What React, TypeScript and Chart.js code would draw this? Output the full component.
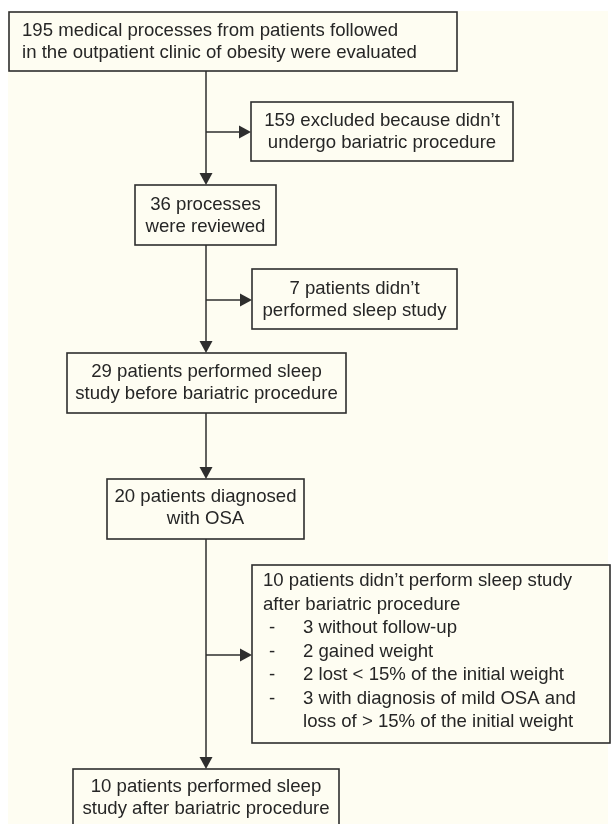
import React, { useEffect, useRef } from "react";
import { Chart, registerables } from "chart.js";

Chart.register(...registerables);

// ---- Content (texts of the flow diagram) ----
const mainSteps: string[][] = [
  ["195 medical processes from patients followed", "in the outpatient clinic of obesity were evaluated"],
  ["36 processes", "were reviewed"],
  ["29 patients performed sleep", "study before bariatric procedure"],
  ["20 patients diagnosed", "with OSA"],
  ["10 patients performed sleep", "study after bariatric procedure"],
];
const exclusionHeads: string[][] = [
  ["159 excluded because didn\u2019t", "undergo bariatric procedure"],
  ["7 patients didn\u2019t", "performed sleep study"],
  ["10 patients didn\u2019t perform sleep study", "after bariatric procedure"],
];
const lastReasons: string[][] = [
  ["3 without follow-up"],
  ["2 gained weight"],
  ["2 lost < 15% of the initial weight"],
  ["3 with diagnosis of mild OSA and", "loss of > 15% of the initial weight"],
];

// ---- Layout (diagram coordinates, 612 x 824 space) ----
type Box = { x0: number; x1: number; y0: number; y1: number; align: "left" | "center"; first: number; lh: number; tx?: number };
const mainBoxes: Box[] = [
  { x0: 9, x1: 457, y0: 12, y1: 71, align: "left", tx: 22, first: 31, lh: 22 },
  { x0: 135, x1: 276, y0: 185, y1: 245, align: "center", first: 205, lh: 22 },
  { x0: 67, x1: 346, y0: 353, y1: 413, align: "center", first: 372, lh: 21.5 },
  { x0: 107, x1: 304, y0: 479, y1: 539, align: "center", first: 497, lh: 22 },
  { x0: 73, x1: 339, y0: 769, y1: 832, align: "center", first: 787, lh: 21.5 },
];
const sideBoxes: Box[] = [
  { x0: 251, x1: 513, y0: 102, y1: 161, align: "center", first: 121, lh: 22 },
  { x0: 252, x1: 457, y0: 269, y1: 329, align: "center", first: 289, lh: 22 },
  { x0: 252, x1: 610, y0: 565, y1: 743, align: "left", tx: 263, first: 581, lh: 23.5 },
];
const spineX = 206;
const branchY = [132, 300, null, 655];
const dashX = 269;
const reasonX = 303;

const FONT = '18.6px "Liberation Sans", Arial, sans-serif';
const INK = "#262626";
const LINE = "#2e2e2e";
const BG = "#fefdf2";

const flowPlugin = {
  id: "flowPlugin",
  beforeDraw(chart: any) {
    const { ctx } = chart;
    const xs = chart.scales.x;
    const ys = chart.scales.y;
    const X = (v: number) => xs.getPixelForValue(v);
    const Y = (v: number) => ys.getPixelForValue(v);
    ctx.save();
    ctx.fillStyle = "#ffffff";
    ctx.fillRect(0, 0, chart.width, chart.height);
    ctx.fillStyle = BG;
    ctx.fillRect(X(8), Y(11), X(608) - X(8), Y(824) - Y(11));
    ctx.restore();
  },
  afterDraw(chart: any) {
    const { ctx } = chart;
    const xs = chart.scales.x;
    const ys = chart.scales.y;
    const X = (v: number) => xs.getPixelForValue(v);
    const Y = (v: number) => ys.getPixelForValue(v);
    ctx.save();
    ctx.strokeStyle = LINE;
    ctx.fillStyle = LINE;
    ctx.lineWidth = 1.5;

    const arrowDown = (x: number, yTip: number) => {
      ctx.beginPath();
      ctx.moveTo(X(x), Y(yTip));
      ctx.lineTo(X(x - 6.5), Y(yTip - 12));
      ctx.lineTo(X(x + 6.5), Y(yTip - 12));
      ctx.closePath();
      ctx.fill();
    };
    const arrowRight = (xTip: number, y: number) => {
      ctx.beginPath();
      ctx.moveTo(X(xTip), Y(y));
      ctx.lineTo(X(xTip - 12), Y(y - 6.5));
      ctx.lineTo(X(xTip - 12), Y(y + 6.5));
      ctx.closePath();
      ctx.fill();
    };

    // connectors along the spine
    const spineLinks = [
      [0, 1, 0],
      [1, 2, 1],
      [2, 3, -1],
      [3, 4, 2],
    ];
    spineLinks.forEach(([a, b, side], i) => {
      const top = mainBoxes[a].y1;
      const bot = mainBoxes[b].y0;
      ctx.beginPath();
      ctx.moveTo(X(spineX), Y(top));
      ctx.lineTo(X(spineX), Y(bot - 10));
      ctx.stroke();
      arrowDown(spineX, bot);
      if (side >= 0) {
        const by = branchY[i] as number;
        const sb = sideBoxes[side];
        ctx.beginPath();
        ctx.moveTo(X(spineX), Y(by));
        ctx.lineTo(X(sb.x0 - 10), Y(by));
        ctx.stroke();
        arrowRight(sb.x0, by);
      }
    });

    // boxes
    const drawBox = (b: Box) => {
      ctx.fillStyle = BG;
      ctx.fillRect(X(b.x0), Y(b.y0), X(b.x1) - X(b.x0), Y(b.y1) - Y(b.y0));
      ctx.strokeStyle = LINE;
      ctx.lineWidth = 1.6;
      ctx.strokeRect(X(b.x0), Y(b.y0), X(b.x1) - X(b.x0), Y(b.y1) - Y(b.y0));
    };
    const drawLines = (b: Box, lines: string[]) => {
      ctx.fillStyle = INK;
      ctx.font = FONT;
      ctx.textBaseline = "middle";
      ctx.textAlign = b.align;
      const tx = b.align === "left" ? (b.tx as number) : (b.x0 + b.x1) / 2;
      lines.forEach((t, k) => ctx.fillText(t, X(tx), Y(b.first + k * b.lh)));
    };

    mainBoxes.forEach((b, i) => {
      drawBox(b);
      drawLines(b, mainSteps[i]);
    });
    sideBoxes.forEach((b, i) => {
      drawBox(b);
      drawLines(b, exclusionHeads[i]);
    });

    // reasons list in the last side box
    const lb = sideBoxes[2];
    let row = exclusionHeads[2].length;
    ctx.fillStyle = INK;
    ctx.font = FONT;
    ctx.textBaseline = "middle";
    ctx.textAlign = "left";
    lastReasons.forEach((r) => {
      r.forEach((t, k) => {
        const y = Y(lb.first + row * lb.lh);
        if (k === 0) ctx.fillText("-", X(dashX), y);
        ctx.fillText(t, X(reasonX), y);
        row++;
      });
    });
    ctx.restore();
  },
};

export default function App() {
  const ref = useRef<HTMLCanvasElement | null>(null);
  useEffect(() => {
    if (!ref.current) return;
    const chart = new Chart(ref.current, {
      type: "scatter",
      data: { datasets: [{ data: [], showLine: false }] },
      options: {
        animation: false,
        responsive: false,
        devicePixelRatio: 1,
        layout: { padding: 0 },
        plugins: { legend: { display: false }, tooltip: { enabled: false } },
        scales: {
          x: { type: "linear", min: 0, max: 612, display: false },
          y: { type: "linear", min: 0, max: 824, reverse: true, display: false },
        },
      },
      plugins: [flowPlugin],
    });
    return () => chart.destroy();
  }, []);
  return (
    <div style={{ position: "absolute", left: 0, top: 0, width: 612, height: 824 }}>
      <canvas ref={ref} width={612} height={824} />
    </div>
  );
}
